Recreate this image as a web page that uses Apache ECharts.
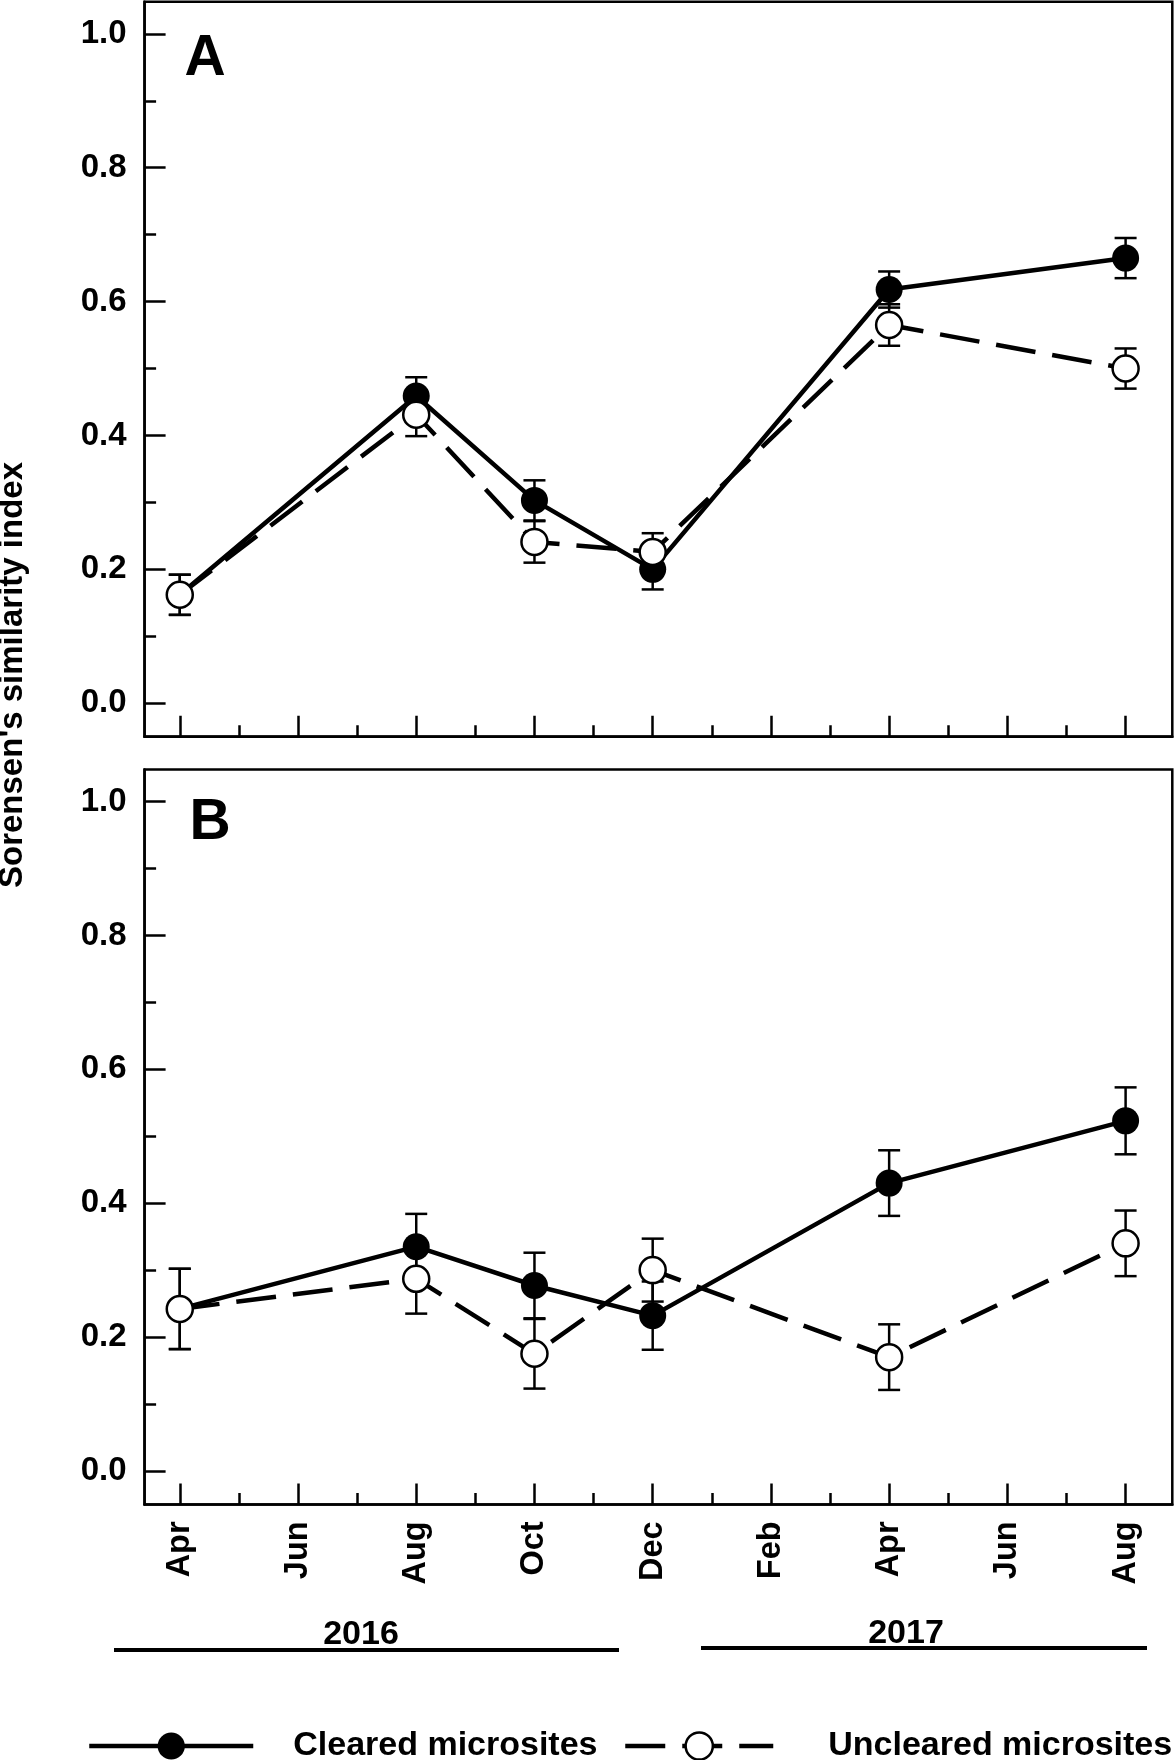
<!DOCTYPE html>
<html>
<head>
<meta charset="utf-8">
<script src="https://cdn.jsdelivr.net/npm/echarts@6/dist/echarts.min.js"></script>
<style>
  html, body { margin: 0; padding: 0; background: #fff; }
  #chart { width: 1175px; height: 1760px; }
</style>
</head>
<body>
<div id="chart"></div>
<script>
// ---- data ----
const monthTicks = [0, 2, 4, 6, 8, 10, 12, 14, 16];
const monthLabels = ['Apr', 'Jun', 'Aug', 'Oct', 'Dec', 'Feb', 'Apr', 'Jun', 'Aug'];
const minorMonthTicks = [1, 3, 5, 7, 9, 11, 13, 15];
const yMajorTicks = [0, 0.2, 0.4, 0.6, 0.8, 1.0];
const yMinorTicks = [0.1, 0.3, 0.5, 0.7, 0.9];
const sampleX = [0, 4, 6, 8, 12, 16]; // Apr16, Aug16, Oct16, Dec16, Apr17, Aug17

const clearedA = [0.162, 0.459, 0.303, 0.200, 0.618, 0.665];
const clearedASE = [0.030, 0.028, 0.030, 0.030, 0.027, 0.030];
const unclearedA = [0.162, 0.431, 0.241, 0.226, 0.565, 0.500];
const unclearedASE = [0.030, 0.032, 0.031, 0.028, 0.031, 0.030];

const clearedB = [0.242, 0.335, 0.277, 0.232, 0.430, 0.523];
const clearedBSE = [0.060, 0.049, 0.049, 0.051, 0.049, 0.050];
const unclearedB = [0.242, 0.287, 0.175, 0.300, 0.170, 0.340];
const unclearedBSE = [0.060, 0.052, 0.052, 0.047, 0.049, 0.049];

const yearLabels = ['2016', '2017'];
const seriesNames = ['Cleared microsites', 'Uncleared microsites'];
const yTitle = "Sorensen's similarity index";
const panelLabels = ['A', 'B'];

// ---- styling ----
const FONT = "'Liberation Sans', Arial, Helvetica, sans-serif";
const X_MIN = -0.595, X_MAX = 16.79;
const Y_MIN = -0.05, Y_MAX = 1.048;
const AXW = 2.5;

function pts(ys) { return ys.map((v, i) => [sampleX[i], v]); }
function errs(ys, se) { return ys.map((v, i) => [sampleX[i], v - se[i], v + se[i]]); }

function errRender(params, api) {
  const x = api.value(0), lo = api.value(1), hi = api.value(2);
  const a = api.coord([x, lo]), b = api.coord([x, hi]);
  const hw = 11;
  const st = { stroke: '#000', lineWidth: 2.5 };
  return {
    type: 'group',
    children: [
      { type: 'line', shape: { x1: a[0], y1: a[1], x2: b[0], y2: b[1] }, style: st },
      { type: 'line', shape: { x1: a[0] - hw, y1: a[1], x2: a[0] + hw, y2: a[1] }, style: st },
      { type: 'line', shape: { x1: b[0] - hw, y1: b[1], x2: b[0] + hw, y2: b[1] }, style: st }
    ]
  };
}

function xAxisDef(grid, major, labels) {
  return {
    type: 'value', gridIndex: grid, min: X_MIN, max: X_MAX, position: 'bottom',
    axisLine: { show: major, onZero: false, lineStyle: { color: '#000', width: AXW } },
    axisTick: {
      show: true, inside: true, length: major ? 21 : 11.5,
      customValues: major ? monthTicks : minorMonthTicks,
      lineStyle: { color: '#000', width: AXW }
    },
    axisLabel: {
      show: labels, rotate: 90, margin: 17,
      customValues: monthTicks,
      formatter: v => monthLabels[Math.round(v / 2)],
      color: '#000', fontFamily: FONT, fontWeight: 'bold', fontSize: 32.5
    },
    splitLine: { show: false }
  };
}

function yAxisDef(grid, major) {
  return {
    type: 'value', gridIndex: grid, min: Y_MIN, max: Y_MAX, position: 'left',
    axisLine: { show: major, onZero: false, lineStyle: { color: '#000', width: AXW } },
    axisTick: {
      show: true, inside: true, length: major ? 21 : 11.5,
      customValues: major ? yMajorTicks : yMinorTicks,
      lineStyle: { color: '#000', width: AXW }
    },
    axisLabel: {
      show: major, margin: 18,
      customValues: yMajorTicks,
      formatter: v => v.toFixed(1),
      color: '#000', fontFamily: FONT, fontWeight: 'bold', fontSize: 33
    },
    splitLine: { show: false }
  };
}

function clearedSeries(xi, yi, data) {
  return {
    name: seriesNames[0], type: 'line', xAxisIndex: xi, yAxisIndex: yi, z: 3,
    data: pts(data), symbol: 'circle', symbolSize: 27,
    lineStyle: { color: '#000', width: 4.5, type: 'solid' },
    itemStyle: { color: '#000', borderWidth: 0 },
    animation: false
  };
}
function unclearedSeries(xi, yi, data) {
  return {
    name: seriesNames[1], type: 'line', xAxisIndex: xi, yAxisIndex: yi, z: 4,
    data: pts(data), symbol: 'circle', symbolSize: 26,
    lineStyle: { color: '#000', width: 4.5, type: [40, 17] },
    itemStyle: { color: '#fff', borderColor: '#000', borderWidth: 2.5 },
    animation: false
  };
}
function errSeries(xi, yi, data, se) {
  return {
    name: 'err', type: 'custom', xAxisIndex: xi, yAxisIndex: yi, z: 2,
    data: errs(data, se), encode: { x: 0, y: [1, 2] },
    renderItem: errRender, animation: false, silent: true
  };
}

const chart = echarts.init(document.getElementById('chart'), null, { renderer: 'canvas' });

const txt = (text, x, y, size, extra) => Object.assign({
  type: 'text', x: x, y: y, silent: true,
  style: { text: text, fill: '#000', font: 'bold ' + size + 'px ' + FONT, align: 'center', verticalAlign: 'middle' }
}, extra || {});

const option = {
  backgroundColor: '#fff',
  animation: false,
  grid: [
    { left: 144.6, top: 1.7, width: 1027.7, height: 735, show: true, borderColor: '#000', borderWidth: AXW, backgroundColor: 'transparent', containLabel: false, outerBoundsMode: 'none' },
    { left: 144.6, top: 769.4, width: 1027.7, height: 735, show: true, borderColor: '#000', borderWidth: AXW, backgroundColor: 'transparent', containLabel: false, outerBoundsMode: 'none' }
  ],
  xAxis: [xAxisDef(0, true, false), xAxisDef(0, false, false), xAxisDef(1, true, true), xAxisDef(1, false, false)],
  yAxis: [yAxisDef(0, true), yAxisDef(0, false), yAxisDef(1, true), yAxisDef(1, false)],
  legend: [
    {
      data: [seriesNames[0]], left: 87, top: 1729, padding: 0, orient: 'horizontal',
      itemWidth: 164, itemHeight: 34, selectedMode: false,
      lineStyle: { width: 4.5 },
      itemStyle: { color: '#000', borderWidth: 0 },
      textStyle: { color: '#000', fontFamily: FONT, fontWeight: 'bold', fontSize: 34, padding: [0, 0, 0, 35] }
    },
    {
      data: [seriesNames[1]], left: 623, top: 1729, padding: 0, orient: 'horizontal',
      itemWidth: 148, itemHeight: 34, selectedMode: false,
      lineStyle: { width: 4.5 },
      itemStyle: { color: '#fff', borderColor: '#000', borderWidth: 2.5 },
      textStyle: { color: '#000', fontFamily: FONT, fontWeight: 'bold', fontSize: 34, padding: [0, 0, 0, 50] }
    }
  ],
  graphic: [
    txt(panelLabels[0], 205, 59.5, 57),
    txt(panelLabels[1], 210, 823, 57),
    txt(yTitle, 13, 675, 33, { rotation: Math.PI / 2 }),
    txt(yearLabels[0], 361, 1635, 34),
    txt(yearLabels[1], 906, 1634, 34),
    { type: 'line', silent: true, shape: { x1: 114, y1: 1650, x2: 619, y2: 1650 }, style: { stroke: '#000', lineWidth: 4 } },
    { type: 'line', silent: true, shape: { x1: 701, y1: 1648, x2: 1147, y2: 1648 }, style: { stroke: '#000', lineWidth: 4 } }
  ],
  series: [
    errSeries(0, 0, clearedA, clearedASE),
    errSeries(0, 0, unclearedA, unclearedASE),
    clearedSeries(0, 0, clearedA),
    unclearedSeries(0, 0, unclearedA),
    errSeries(2, 2, clearedB, clearedBSE),
    errSeries(2, 2, unclearedB, unclearedBSE),
    clearedSeries(2, 2, clearedB),
    unclearedSeries(2, 2, unclearedB)
  ]
};
chart.setOption(option);
</script>
</body>
</html>
